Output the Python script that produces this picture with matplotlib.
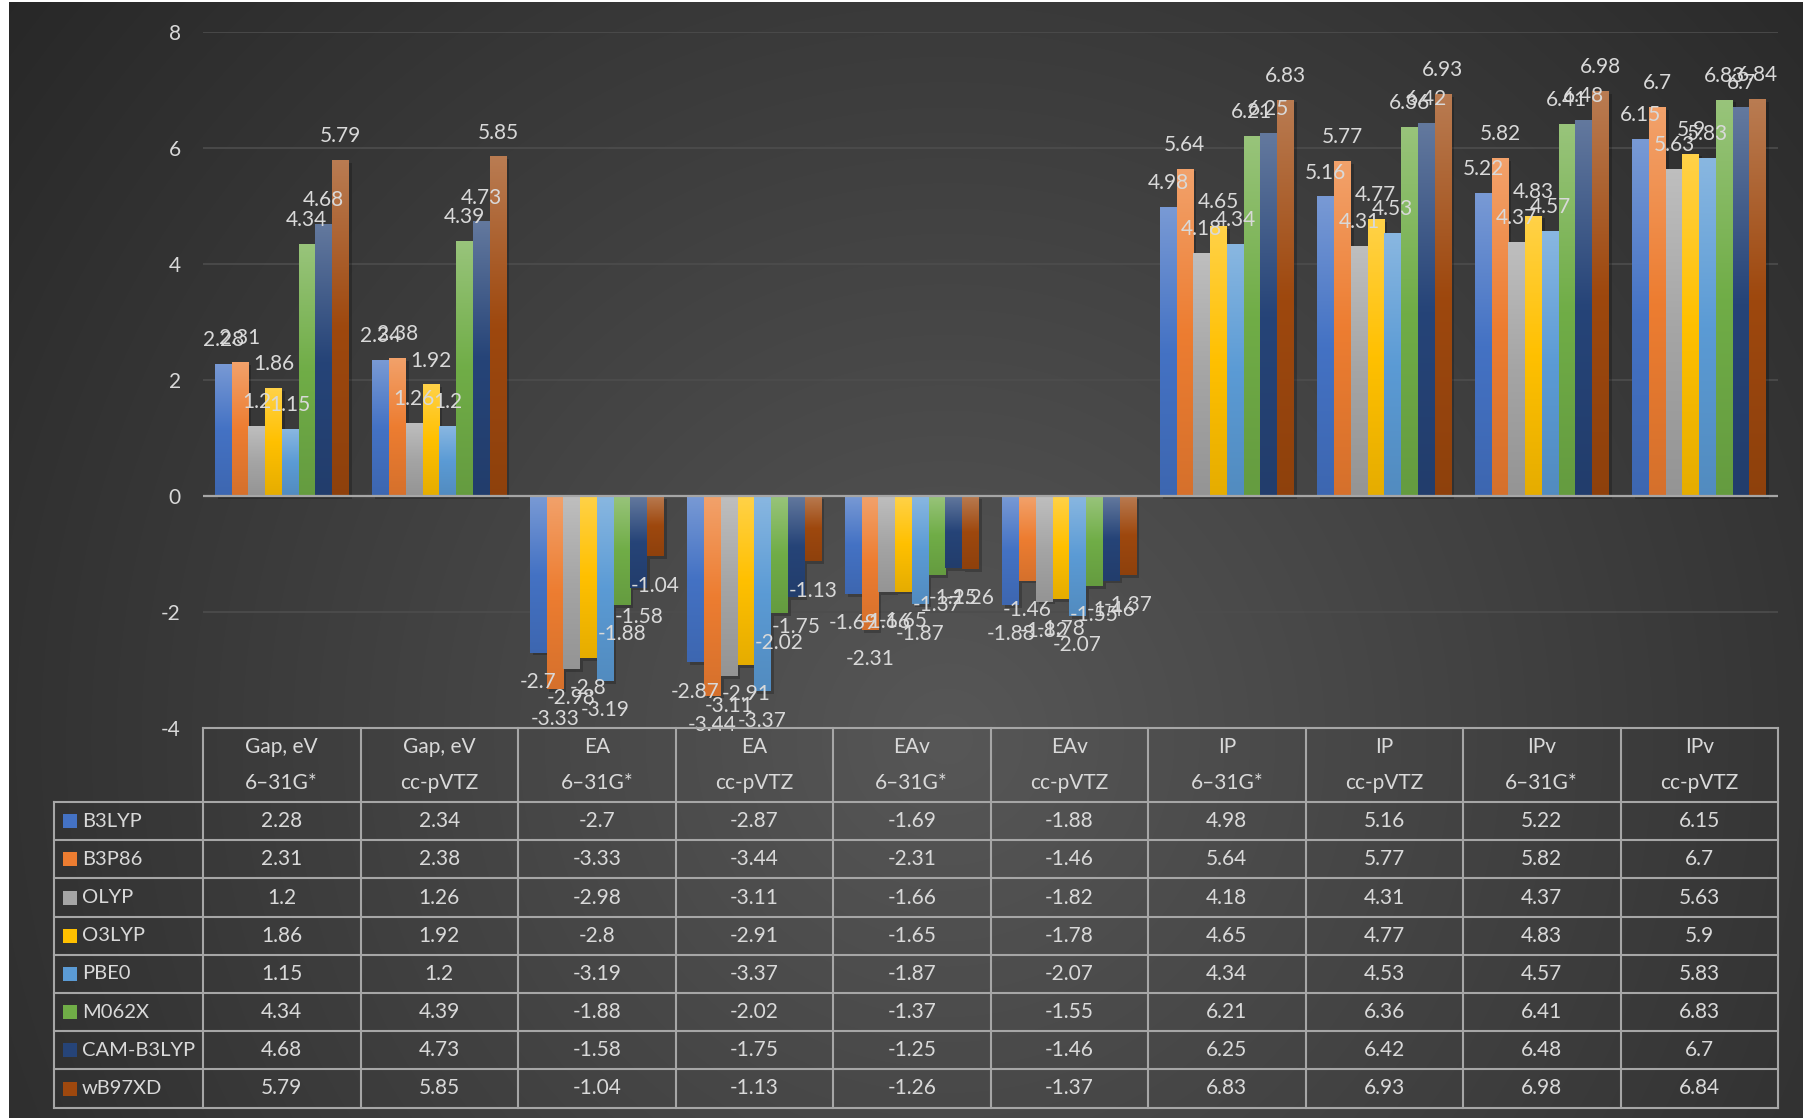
import numpy as np
import matplotlib.pyplot as plt
from matplotlib.patches import Rectangle
from matplotlib import patheffects as pe
from matplotlib.colors import to_rgb

plt.rcParams['font.family'] = ['Lato', 'DejaVu Sans']
plt.rcParams['axes.unicode_minus'] = False

categories = ['Gap, eV', 'Gap, eV', 'EA', 'EA', 'EAv', 'EAv', 'IP', 'IP', 'IPv', 'IPv']
basis_sets = ['6–31G*', 'cc-pVTZ'] * 5
methods = ['B3LYP', 'B3P86', 'OLYP', 'O3LYP', 'PBE0', 'M062X', 'CAM-B3LYP', 'wB97XD']

b3lyp = [2.28, 2.34, -2.7, -2.87, -1.69, -1.88, 4.98, 5.16, 5.22, 6.15]
b3p86 = [2.31, 2.38, -3.33, -3.44, -2.31, -1.46, 5.64, 5.77, 5.82, 6.7]
olyp = [1.2, 1.26, -2.98, -3.11, -1.66, -1.82, 4.18, 4.31, 4.37, 5.63]
o3lyp = [1.86, 1.92, -2.8, -2.91, -1.65, -1.78, 4.65, 4.77, 4.83, 5.9]
pbe0 = [1.15, 1.2, -3.19, -3.37, -1.87, -2.07, 4.34, 4.53, 4.57, 5.83]
m062x = [4.34, 4.39, -1.88, -2.02, -1.37, -1.55, 6.21, 6.36, 6.41, 6.83]
cam_b3lyp = [4.68, 4.73, -1.58, -1.75, -1.25, -1.46, 6.25, 6.42, 6.48, 6.7]
wb97xd = [5.79, 5.85, -1.04, -1.13, -1.26, -1.37, 6.83, 6.93, 6.98, 6.84]
series = [b3lyp, b3p86, olyp, o3lyp, pbe0, m062x, cam_b3lyp, wb97xd]

colors = ['#4472C4', '#ED7D31', '#A5A5A5', '#FFC000',
          '#5B9BD5', '#70AD47', '#264478', '#9E480E']

txt_col = '#D9D9D9'
line_col = '#A6A6A6'
fs = 15

W, H = 1803, 1118
fig = plt.figure(figsize=(W / 100, H / 100), dpi=100, facecolor='white')

# dark radial background like the excel chart style
bg = fig.add_axes([9 / W, 0, 1 - 9 / W, 1 - 2 / H])
yy, xx = np.mgrid[0:H, 0:W]
d = np.hypot(xx - 943, yy - 738)
v = np.clip(87 - 0.0395 * d, 36, 90) / 255
bg.imshow(np.dstack([v, v, v]), aspect='auto', extent=[0, 1, 0, 1])
bg.set_axis_off()

# main plot area: y=8 at 32px, y=-4 at 728px, x from 203 to 1778 px
left, right = 203, 1778
top8, bot4 = 31.7, 728
ax = fig.add_axes([left / W, 1 - bot4 / H, (right - left) / W, (bot4 - top8) / H])
ax.set_facecolor('none')

x = np.arange(len(categories))
n = len(series)
bw = (134 / 157.5) / n


def grad(col, nstep=64):
    c = np.array(to_rgb(col))
    light = c + (1 - c) * 0.28
    dark = c * 0.9
    t = np.linspace(0, 1, nstep)[:, None]
    top = light + (c - light) * np.clip(t / 0.5, 0, 1)
    bot = c + (dark - c) * np.clip((t - 0.5) / 0.5, 0, 1)
    g = np.where(t < 0.5, top, bot)
    return g[:, None, :]


for j, (vals, col) in enumerate(zip(series, colors)):
    xs = x + (j - (n - 1) / 2) * bw
    bars = ax.bar(xs, vals, bw, color=col, zorder=3, linewidth=0)
    img = grad(col)
    for b, val in zip(bars, vals):
        b.set_path_effects([pe.SimplePatchShadow(offset=(2, -2), shadow_rgbFace='black', alpha=0.22),
                            pe.Normal()])
        x0, w = b.get_x(), b.get_width()
        y0, y1 = sorted([b.get_y(), b.get_y() + b.get_height()])
        im = ax.imshow(img, extent=[x0, x0 + w, y0, y1], aspect='auto',
                       origin='upper', interpolation='bilinear', zorder=3.1)
        im.set_clip_path(b)
        if val >= 0:
            ax.annotate(f'{val:g}', (x0 + w / 2, val), xytext=(0, 10), textcoords='offset points',
                        ha='center', va='bottom', color=txt_col, fontsize=fs, zorder=5)
        else:
            ax.annotate(f'{val:g}', (x0 + w / 2, val), xytext=(0, -14), textcoords='offset points',
                        ha='center', va='top', color=txt_col, fontsize=fs, zorder=5)

ax.set_xlim(-0.5, len(categories) - 0.5)
ax.set_ylim(-4, 8)
ax.set_yticks(np.arange(-4, 9, 2))
ax.set_xticks([])
ax.tick_params(axis='y', length=0, pad=16, labelcolor=txt_col, labelsize=15)
for s in ax.spines.values():
    s.set_visible(False)
for g in [-2, 2, 4, 6, 8]:
    ax.axhline(g, color='#4d4d4d', lw=1.2, zorder=1)
ax.axhline(0, color=line_col, lw=1.6, zorder=4)

# data table below the plot
tab_top, head_bot, row_h = 728, 802, 38.2
tab_bot = head_bot + row_h * len(methods)
tax = fig.add_axes([left / W, 1 - tab_bot / H, (right - left) / W, (tab_bot - tab_top) / H])
tax.set_xlim(-0.5, len(categories) - 0.5)
tax.set_ylim(tab_bot, tab_top)
tax.set_axis_off()

upx = 1 / 157.5  # x data units per pixel
leg_left = -0.5 - (left - 54) * upx
lw_t = 1.5

tax.plot([-0.5, 9.5], [tab_top, tab_top], color=line_col, lw=lw_t, clip_on=False)
for k in range(len(methods) + 1):
    yk = head_bot + k * row_h
    tax.plot([leg_left, 9.5], [yk, yk], color=line_col, lw=lw_t, clip_on=False)
for k in range(len(categories) + 1):
    xk = k - 0.5
    tax.plot([xk, xk], [tab_top, tab_bot], color=line_col, lw=lw_t, clip_on=False)
tax.plot([leg_left, leg_left], [head_bot, tab_bot], color=line_col, lw=lw_t, clip_on=False)

for i, (cat, bas) in enumerate(zip(categories, basis_sets)):
    tax.text(i, 747, cat, ha='center', va='center', color=txt_col, fontsize=fs)
    tax.text(i, 783, bas, ha='center', va='center', color=txt_col, fontsize=fs)

for r, (name, vals, col) in enumerate(zip(methods, series, colors)):
    yc = head_bot + (r + 0.5) * row_h
    tax.add_patch(Rectangle((-0.5 - (left - 63) * upx, yc - 7), 14 * upx, 14,
                            facecolor=col, edgecolor='none', clip_on=False))
    tax.text(-0.5 - (left - 82) * upx, yc, name, ha='left', va='center',
             color=txt_col, fontsize=14.5, clip_on=False)
    for i, val in enumerate(vals):
        tax.text(i, yc, f'{val:g}', ha='center', va='center', color=txt_col, fontsize=fs)

plt.savefig('out.png', dpi=100, facecolor=fig.get_facecolor())
